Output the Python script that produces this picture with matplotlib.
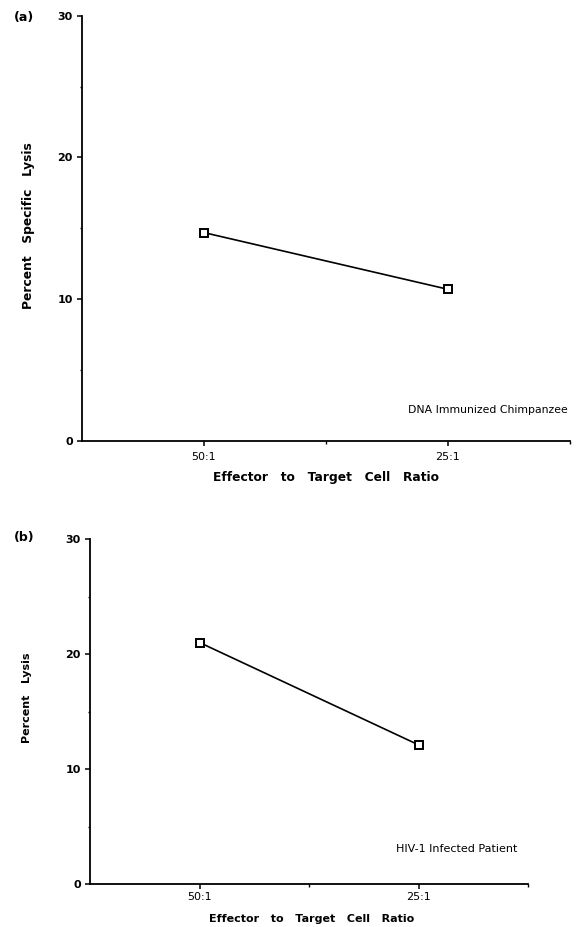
import matplotlib
matplotlib.use("Agg")
import matplotlib.pyplot as plt
from matplotlib.ticker import FixedLocator

plt.rcParams['font.family'] = ['DejaVu Sans']

categories = ["50:1", "25:1"]
lysis_a = [14.7, 10.7]
lysis_b = [21.0, 12.1]
yticks = [0, 10, 20, 30]
panel_labels = ["(a)", "(b)"]
annotations = ["DNA Immunized Chimpanzee", "HIV-1 Infected Patient"]
ylabels = ["Percent   Specific   Lysis", "Percent   Lysis"]
xlabel = "Effector   to   Target   Cell   Ratio"

W, H = 580, 927
fig = plt.figure(figsize=(W / 100, H / 100), dpi=100)

def px_rect(left, top, right, bottom):
    return [left / W, 1 - bottom / H, (right - left) / W, (bottom - top) / H]

rects = [px_rect(82, 15.7, 570, 441), px_rect(90, 539, 528, 884)]
datas = [lysis_a, lysis_b]
panel_pos = [(14, 17), (14, 538)]
ann_pos = [(568, 410), (517, 849)]
ylab_pos = [(29, 226), (27, 698)]
xlab_pos = [(326, 477), (312, 919)]
xpads = [4.3, 2.2]
ylab_sizes = [8.8, 8]
xlab_sizes = [8.8, 8]
ann_sizes = [7.8, 8]

for i, ax_rect in enumerate(rects):
    ax = fig.add_axes(ax_rect)
    x = [1, 2]
    ax.plot(x, datas[i], color='black', lw=1.2, marker='s', ms=5.5,
            mfc='white', mec='black', mew=1.4, zorder=3)
    ax.set_xlim(0.5, 2.5)
    ax.set_ylim(0, 30)
    for s in ['top', 'right']:
        ax.spines[s].set_visible(False)
    for s in ['left', 'bottom']:
        ax.spines[s].set_linewidth(1.3)
    ax.set_xticks(x)
    ax.set_xticklabels(categories, fontsize=8)
    ax.xaxis.set_minor_locator(FixedLocator([1.5, 2.5]))
    ax.set_yticks(yticks)
    ax.set_yticklabels([str(v) for v in yticks], fontsize=8, fontweight='bold')
    ax.yaxis.set_minor_locator(FixedLocator([5, 15, 25]))
    ax.tick_params(axis='both', which='major', length=3.6, width=1.1, direction='out', pad=3)
    ax.tick_params(axis='x', which='major', pad=xpads[i])
    ax.tick_params(axis='both', which='minor', length=1.8, width=1.0, direction='out')
    ax.patch.set_alpha(0)

    fig.text(panel_pos[i][0] / W, 1 - panel_pos[i][1] / H, panel_labels[i],
             fontsize=9, fontweight='bold', ha='left', va='center')
    fig.text(ann_pos[i][0] / W, 1 - ann_pos[i][1] / H, annotations[i],
             fontsize=ann_sizes[i], ha='right', va='center')
    fig.text(ylab_pos[i][0] / W, 1 - ylab_pos[i][1] / H, ylabels[i],
             fontsize=ylab_sizes[i], fontweight='bold', rotation=90, ha='center', va='center')
    fig.text(xlab_pos[i][0] / W, 1 - xlab_pos[i][1] / H, xlabel,
             fontsize=xlab_sizes[i], fontweight='bold', ha='center', va='center')

fig.savefig("out.png", dpi=100, facecolor='white')
